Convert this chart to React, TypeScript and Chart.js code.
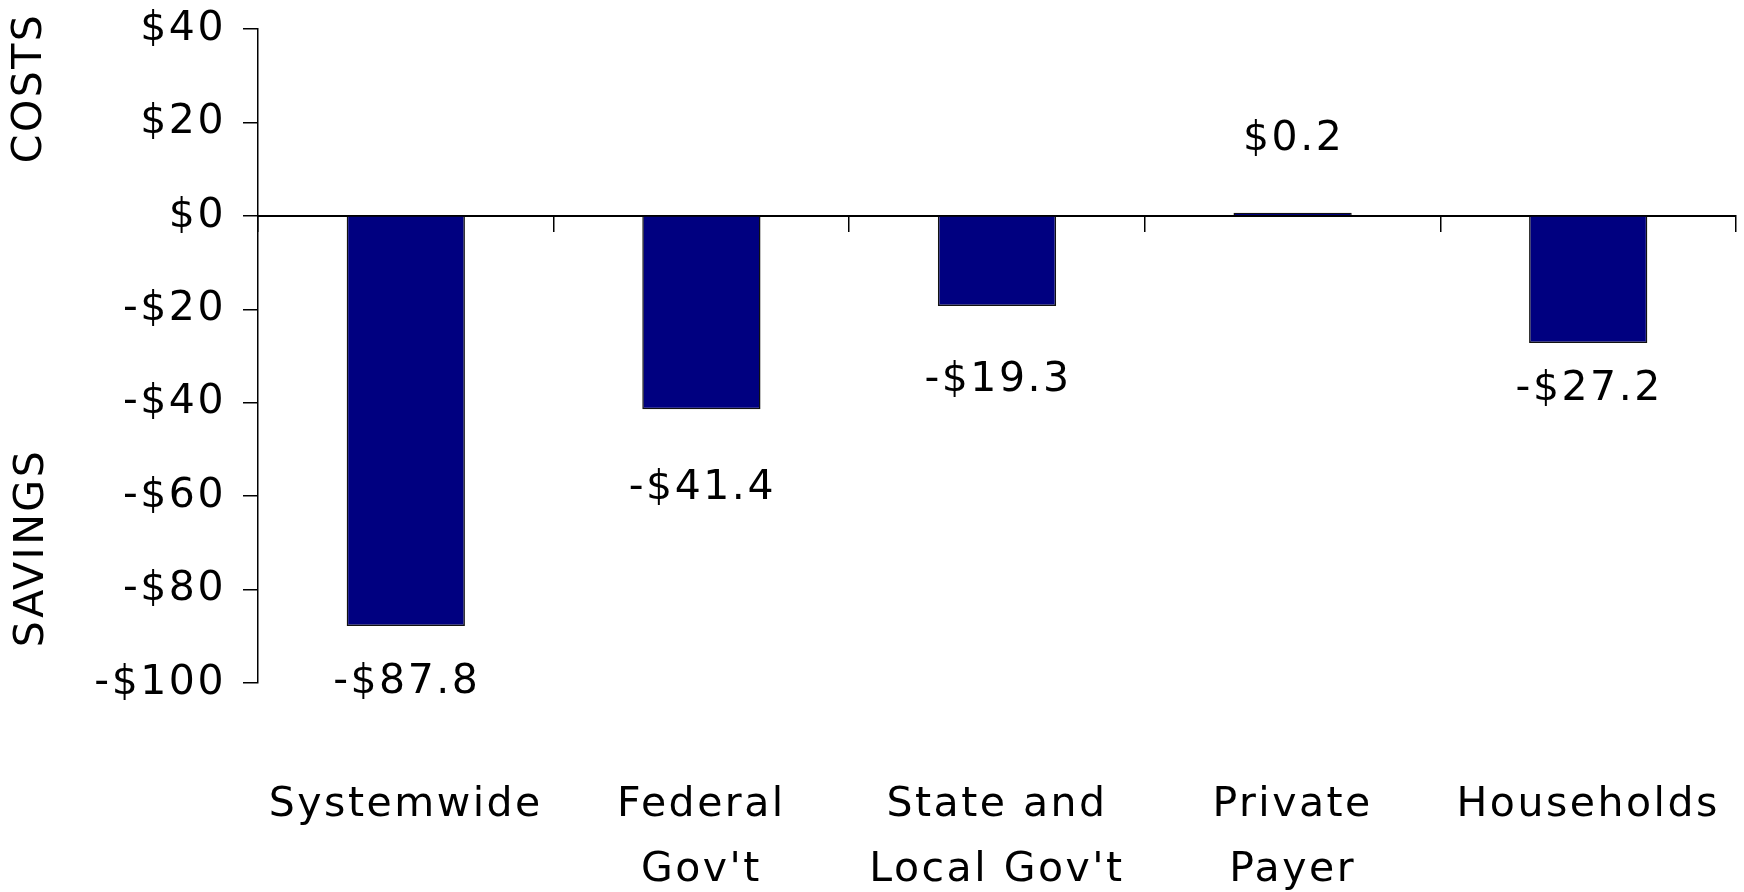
import React, { useEffect, useRef } from 'react';
import { Chart, registerables } from 'chart.js';

Chart.register(...registerables);

const categories: (string | string[])[] = [
  'Systemwide',
  ['Federal', "Gov't"],
  ['State and', "Local Gov't"],
  ['Private', 'Payer'],
  'Households',
];
const values = [-87.8, -41.4, -19.3, 0.2, -27.2];
const yTicks = [40, 20, 0, -20, -40, -60, -80, -100];
const axisTitles = ['COSTS', 'SAVINGS'];
// distance (px) from bar end to its value label centre, as in the reference
const labelOffsets = [56, 79, 74, 74, 46];

const FONT_FAMILY = "'DejaVu Sans', sans-serif";
const FONT_SIZE = 41;
const LETTER_SPACING = '2.5px';

const fmtMoney = (v: number, decimals: number) => {
  const s = Math.abs(v).toFixed(decimals);
  return v < 0 ? '-$' + s : '$' + s;
};

const extrasPlugin = {
  id: 'extras',
  beforeDraw(chart: any) {
    chart.ctx.letterSpacing = LETTER_SPACING;
  },
  afterDatasetsDraw(chart: any) {
    const ctx = chart.ctx;
    const meta = chart.getDatasetMeta(0);
    ctx.save();
    ctx.letterSpacing = LETTER_SPACING;
    ctx.font = `${FONT_SIZE}px ${FONT_FAMILY}`;
    ctx.fillStyle = '#000';
    ctx.textAlign = 'center';
    ctx.textBaseline = 'middle';
    meta.data.forEach((bar: any, i: number) => {
      const v = values[i];
      const off = labelOffsets[i];
      const y = v < 0 ? bar.y + off : bar.y - off;
      ctx.fillText(fmtMoney(v, 1), bar.x + 1, y);
    });
    ctx.restore();
  },
  afterDraw(chart: any) {
    const ctx = chart.ctx;
    ctx.save();
    ctx.letterSpacing = LETTER_SPACING;
    ctx.font = `${FONT_SIZE}px ${FONT_FAMILY}`;
    ctx.fillStyle = '#000';
    ctx.textAlign = 'center';
    ctx.textBaseline = 'middle';
    const positions = [
      { x: 30, y: 88 },
      { x: 32, y: 548 },
    ];
    axisTitles.forEach((t, i) => {
      ctx.save();
      ctx.translate(positions[i].x, positions[i].y);
      ctx.rotate(-Math.PI / 2);
      ctx.fillText(t, 0, 0);
      ctx.restore();
    });
    ctx.restore();
  },
};

export default function App() {
  const ref = useRef<HTMLCanvasElement | null>(null);

  useEffect(() => {
    document.body.style.margin = '0';
    const canvas = ref.current!;
    const font = { family: FONT_FAMILY, size: FONT_SIZE };
    const chart = new Chart(canvas, {
      type: 'bar',
      data: {
        labels: categories as any,
        datasets: [
          {
            data: values,
            backgroundColor: '#000080',
            borderColor: '#111111',
            borderWidth: 1.5,
            minBarLength: 3,
            barPercentage: 0.8,
            categoryPercentage: 0.5,
          },
        ],
      },
      options: {
        responsive: false,
        animation: false,
        events: [],
        layout: { padding: { top: 29, right: 8, left: 0, bottom: 0 } },
        plugins: {
          legend: { display: false },
          tooltip: { enabled: false },
          title: { display: false },
        },
        scales: {
          x: {
            type: 'category',
            position: 'bottom',
            grid: { display: false, drawTicks: false },
            border: { display: false },
            ticks: {
              color: '#000',
              font: { ...font, lineHeight: 65 / FONT_SIZE },
              padding: 90,
              maxRotation: 0,
              autoSkip: false,
            },
            afterFit: (s: any) => {
              s.height = 892 - 683;
              s.paddingLeft = 0;
              s.paddingRight = 0;
            },
          },
          x2: {
            type: 'category',
            labels: categories as any,
            position: { y: 0 } as any,
            offset: true,
            z: 1,
            grid: {
              drawOnChartArea: false,
              drawTicks: true,
              tickLength: 15,
              offset: true,
              color: '#000',
              lineWidth: 1.5,
            },
            border: { display: true, color: '#000', width: 2 },
            ticks: { display: false },
            afterFit: (s: any) => {
              s.paddingLeft = 0;
              s.paddingRight = 0;
            },
          },
          y: {
            type: 'linear',
            position: 'left',
            min: Math.min(...yTicks),
            max: Math.max(...yTicks),
            grid: {
              drawOnChartArea: false,
              drawTicks: true,
              tickLength: 15,
              color: '#000',
              lineWidth: 1.5,
            },
            border: { display: true, color: '#000', width: 1.5 },
            ticks: {
              stepSize: yTicks[0] - yTicks[1],
              color: '#000',
              font,
              padding: 17,
              callback: (v: any) => fmtMoney(Number(v), 0),
            },
            afterFit: (s: any) => {
              s.width = 258;
              s.paddingTop = 0;
              s.paddingBottom = 0;
            },
          },
        },
      },
      plugins: [extrasPlugin],
    } as any);
    return () => chart.destroy();
  }, []);

  return <canvas ref={ref} width={1744} height={892} style={{ display: 'block' }} />;
}
